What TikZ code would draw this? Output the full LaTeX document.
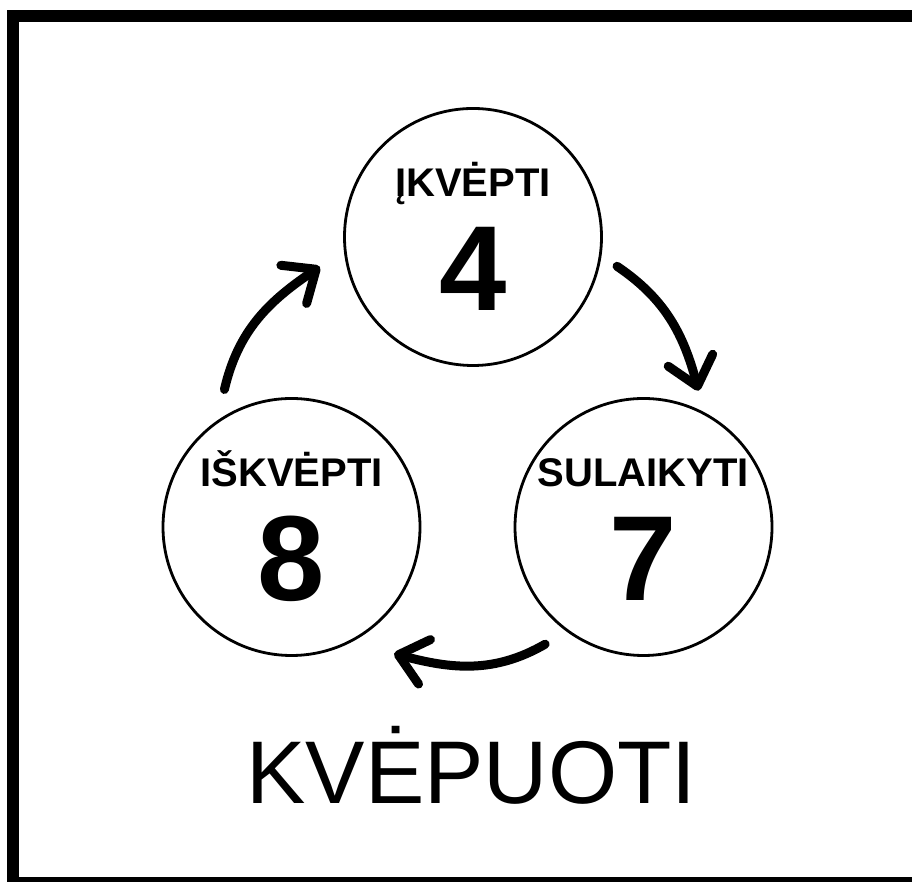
\documentclass[tikz,border=0pt]{standalone}
\usepackage{fontspec}
\setmainfont{Liberation Sans}
\usetikzlibrary{shapes,arrows.meta}
\begin{document}
\begin{tikzpicture}[x=1pt,y=1pt]
	\useasboundingbox (0,0) rectangle (912,882);
	\clip (0,0) rectangle (912,882);
	\draw[line width=12pt] (13,866) rectangle (925,-1);
	\tikzstyle{phase}=[circle, draw, line width=2.8pt, minimum size=257pt, inner sep=0pt]
	\tikzstyle{phasename}=[font=\bfseries\fontsize{40}{48}\selectfont, anchor=base, inner sep=0pt]
	\tikzstyle{phasenum}=[font=\bfseries\fontsize{121}{140}\selectfont, anchor=base, inner sep=0pt]
	\tikzstyle{brush}=[line width=9pt, line cap=round, -{Straight Barb[length=27pt,width=46pt,round]}]
	\node[phase] (inhale) at (473,645) {};
	\node[phase] (hold) at (643.5,355) {};
	\node[phase] (exhale) at (291.5,355) {};
	\node[phasename] (inhale-w) at ([yshift=40pt]inhale.center) {ĮKVĖPTI};
	\node[phasename] (hold-w) at ([yshift=40pt]hold.center) {SULAIKYTI};
	\node[phasename] (exhale-w) at ([yshift=40pt]exhale.center) {IŠKVĖPTI};
	\node[phasenum] (inhale-n) at ([yshift=-74pt]inhale.center) {4};
	\node[phasenum] (hold-n) at ([yshift=-74pt]hold.center) {7};
	\node[phasenum] (exhale-n) at ([yshift=-74pt]exhale.center) {8};
	% ends of the arrows
	\coordinate (exhale-out) at ([shift={(116:153)}]exhale.center);
	\coordinate (inhale-in) at ([shift={(191:156)}]inhale.center);
	\coordinate (inhale-out) at ([shift={(-11.5:147)}]inhale.center);
	\coordinate (hold-in) at ([shift={(68:147)}]hold.center);
	\coordinate (hold-out) at ([shift={(230:153)}]hold.center);
	\coordinate (exhale-in) at ([shift={(-51:163)}]exhale.center);
	\draw[brush] (exhale-out) to[out=77, in=214] (inhale-in);
	\draw[brush] (inhale-out) to[out=-34, in=105] (hold-in);
	\draw[brush] (hold-out) to[out=210, in=345] (exhale-in);
	\node[font=\fontsize{89}{100}\selectfont, anchor=base, inner sep=0pt] (title) at (471.5,78) {KVĖPUOTI};
\end{tikzpicture}
\end{document}
